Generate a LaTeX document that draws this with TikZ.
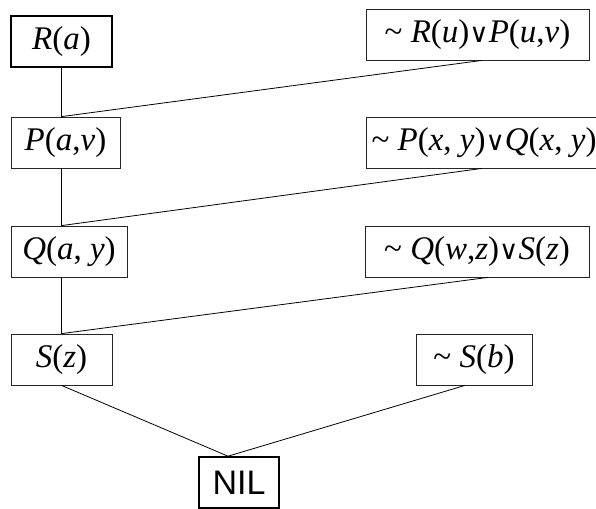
\documentclass[tikz,border=0pt]{standalone}
\usepackage{fontspec}
\setmainfont{Liberation Serif}
\newfontfamily\nilfont{Liberation Sans}
\newfontfamily\orfont[Scale=0.8]{DejaVu Sans}
\usetikzlibrary{positioning}
\newcommand{\iv}[1]{\textit{#1}}
\newcommand{\orsym}{{\orfont ∨}}
\tikzset{
  clause/.style={rectangle, draw=black!85, line width=0.8pt, minimum height=51pt, inner sep=0pt,
    font=\fontsize{33}{36}\selectfont},
  goal/.style={clause, draw=black, line width=1.6pt},
  link/.style={line width=0.8pt, black},
}
\begin{document}
\begin{tikzpicture}[x=1pt, y=-1pt]
  \useasboundingbox (0,0) rectangle (596,508);
  % left column: resolvents
  \node[goal, minimum width=101pt] (ra) at (61.5,41.5) {\iv{R}(\iv{a})};
  \node[clause, minimum width=109pt] (pav) at (65.5,142.5) {\iv{P}(\iv{a},\iv{v})};
  \node[clause, minimum width=116pt] (qay) at (69,251.5) {\iv{Q}(\iv{a}, \iv{y})};
  \node[clause, minimum width=101pt] (sz) at (61.5,359.5) {\iv{S}(\iv{z})};
  % right column: clauses used
  \node[clause, minimum width=223pt] (nru) at (477.5,34.5) {\textasciitilde{} \iv{R}(\iv{u})\orsym\iv{P}(\iv{u},\iv{v})};
  \node[clause, minimum width=236pt] (npq) at (484,142.5) {\textasciitilde{} \iv{P}(\iv{x}, \iv{y})\orsym\iv{Q}(\iv{x}, \iv{y})};
  \node[clause, minimum width=224pt] (nqs) at (477,251.5) {\textasciitilde{} \iv{Q}(\iv{w},\iv{z})\orsym\iv{S}(\iv{z})};
  \node[clause, minimum width=116pt] (nsb) at (474,359.5) {\textasciitilde{} \iv{S}(\iv{b})};
  \node[goal, minimum width=80pt, font=\nilfont\fontsize{34}{36}\selectfont] (nil) at (239,482.5) {NIL};
  \draw[link] (ra.south) -- (ra.south |- pav.north) -- ([xshift=4.5pt]nru.south);
  \draw[link] (pav.south -| ra.south) -- (qay.north -| ra.south) -- ([xshift=-2pt]npq.south);
  \draw[link] (qay.south -| ra.south) -- (sz.north) -- ([xshift=11pt]nqs.south);
  \draw[link] (sz.south) -- ([xshift=-11pt]nil.north);
  \draw[link] ([xshift=-9pt]nsb.south) -- ([xshift=-11pt]nil.north);
\end{tikzpicture}
\end{document}
